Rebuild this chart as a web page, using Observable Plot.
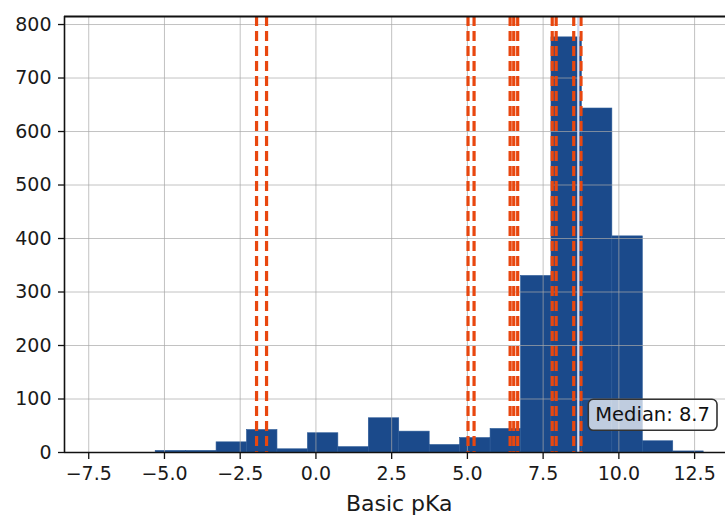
<!DOCTYPE html>
<html><head><meta charset="utf-8">
<script src="https://cdn.jsdelivr.net/npm/d3@7"></script>
<script src="https://cdn.jsdelivr.net/npm/@observablehq/plot@0.6"></script>
<style>html,body{margin:0;padding:0;background:#fff;overflow:hidden} svg{display:block}</style>
</head><body><div id="chart"></div>
<script>
// Histogram bin edges (20 bins) and counts
const binEdges = [-7.3, -6.295, -5.29, -4.285, -3.28, -2.275, -1.27, -0.265, 0.74, 1.745, 2.75, 3.755, 4.76, 5.765, 6.77, 7.775, 8.78, 9.785, 10.79, 11.795, 12.8];
const counts   = [0, 0, 3, 3, 19, 42, 6, 36, 10, 64, 39, 14, 27, 44, 330, 776, 643, 404, 21, 2];
// Dashed reference pKa lines
const pkaLines = [-1.96, -1.63, 5.02, 5.22, 6.41, 6.53, 6.66, 7.80, 7.93, 8.51, 8.75];
const medianValue = 8.66;
const medianLabel = "Median: 8.7";
const labelY = 70;
const xTicks = [-7.5, -5, -2.5, 0, 2.5, 5, 7.5, 10, 12.5];
const yTicks = [0, 100, 200, 300, 400, 500, 600, 700, 800];
const xLimits = [-8.3, 13.8];   // full axes limits (right part cut off by the image)
const xVisible = [-8.3, 13.52];
const yLimits = [0, 815];
const xLabel = "Basic pKa";

const bins = counts.map((c, i) => ({x1: binEdges[i], x2: binEdges[i + 1], count: c}));
const fmt = d3.format(".1f");

const chart = Plot.plot({
  width: 725, height: 515,
  marginLeft: 64, marginRight: 0, marginTop: 16, marginBottom: 63,
  style: {fontFamily: "DejaVu Sans", fontSize: "19px", color: "#1a1a1a", background: "white"},
  x: {domain: xVisible},
  y: {domain: yLimits},
  marks: [
    Plot.rect(bins, {x1: "x1", x2: "x2", y1: 0, y2: "count", fill: "#1b4a8b", stroke: "#2b5a97", strokeWidth: 0.6}),
    Plot.gridX(xTicks, {stroke: "#a8a8a8", strokeOpacity: 0.7, strokeWidth: 1}),
    Plot.gridY(yTicks, {stroke: "#a8a8a8", strokeOpacity: 0.7, strokeWidth: 1}),
    Plot.ruleX(pkaLines, {stroke: "#e8470f", strokeWidth: 3.2, strokeDasharray: "10,5"}),
    Plot.ruleX([medianValue], {stroke: "#d3dcf2", strokeWidth: 2.2}),
    Plot.ruleY([yLimits[0]], {stroke: "#111", strokeWidth: 1.6}),
    Plot.ruleY([yLimits[1]], {stroke: "#111", strokeWidth: 2}),
    Plot.ruleX([xVisible[0]], {stroke: "#111", strokeWidth: 1.6}),
    Plot.axisX({ticks: xTicks, tickSize: 7, tickPadding: 7, tickFormat: fmt, label: null, stroke: "#111", strokeWidth: 1.3}),
    Plot.axisY({ticks: yTicks, tickSize: 6, tickPadding: 7, tickFormat: d => String(d), label: null, stroke: "#111", strokeWidth: 1.3}),
    Plot.text([xLabel], {x: () => (xLimits[0] + xLimits[1]) / 2, frameAnchor: "bottom", dy: 58, lineAnchor: "bottom", fontSize: 22, text: d => d, fill: "#1a1a1a"}),
    Plot.text([medianValue], {x: d => d, y: labelY, text: () => medianLabel, dx: 17, textAnchor: "start", lineAnchor: "middle", fontSize: 19.5, fill: "#111"})
  ]
});
document.getElementById("chart").appendChild(chart);

// Rounded label box behind the median text
const texts = chart.querySelectorAll("text");
texts.forEach(t => {
  if (t.textContent === medianLabel) {
    const b = t.getBBox();
    const ns = "http://www.w3.org/2000/svg";
    const r = document.createElementNS(ns, "rect");
    r.setAttribute("x", b.x - 7);
    r.setAttribute("y", b.y - 4);
    r.setAttribute("width", b.width + 14);
    r.setAttribute("height", b.height + 8);
    r.setAttribute("rx", 5);
    r.setAttribute("fill", "white");
    r.setAttribute("fill-opacity", 0.72);
    r.setAttribute("stroke", "#333");
    r.setAttribute("stroke-width", 1.6);
    const g = t.parentNode;
    const tr = t.getAttribute("transform");
    if (tr) r.setAttribute("transform", tr);
    g.insertBefore(r, t);
  }
});
</script>
</body></html>
